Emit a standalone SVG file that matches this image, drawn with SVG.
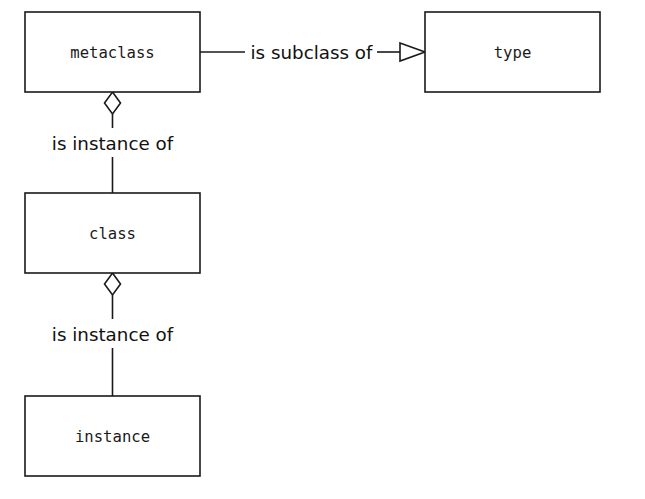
<svg xmlns="http://www.w3.org/2000/svg" width="645" height="499" viewBox="0 0 645 499">
<style>
.box{fill:#fff;stroke:#1a1a1a;stroke-width:1.6}
.name{font-family:"DejaVu Sans Mono",monospace;font-size:15.6px;fill:#1a1a1a;text-anchor:middle}
.lbl{font-family:"DejaVu Sans",sans-serif;font-size:18.3px;fill:#111;text-anchor:middle}
.ln{stroke:#1a1a1a;stroke-width:1.6;fill:none}
.head{fill:#fff;stroke:#1a1a1a;stroke-width:1.6}
</style>
<rect width="645" height="499" fill="#fff"/>
<g id="connectors">
<line class="ln" x1="200" y1="52" x2="245" y2="52"/>
<text class="lbl" x="311.5" y="58.5">is subclass of</text>
<line class="ln" x1="377" y1="52" x2="400" y2="52"/>
<polygon class="head" points="400,43 425,52 400,61"/>
<polygon class="head" points="112.5,92 120.5,103 112.5,114 104.5,103"/>
<line class="ln" x1="112.5" y1="114" x2="112.5" y2="128"/>
<text class="lbl" x="112.5" y="150">is instance of</text>
<line class="ln" x1="112.5" y1="157" x2="112.5" y2="193"/>
<polygon class="head" points="112.5,273 120.5,284 112.5,295 104.5,284"/>
<line class="ln" x1="112.5" y1="295" x2="112.5" y2="319"/>
<text class="lbl" x="112.5" y="341">is instance of</text>
<line class="ln" x1="112.5" y1="348" x2="112.5" y2="396"/>
</g>
<g id="metaclass"><rect class="box" x="25" y="12" width="175" height="80"/><text class="name" x="112.5" y="57.5">metaclass</text></g>
<g id="type"><rect class="box" x="425" y="12" width="175" height="80"/><text class="name" x="512.5" y="57.5">type</text></g>
<g id="class"><rect class="box" x="25" y="193" width="175" height="80"/><text class="name" x="112.5" y="238.5">class</text></g>
<g id="instance"><rect class="box" x="25" y="396" width="175" height="80"/><text class="name" x="112.5" y="441.5">instance</text></g>
</svg>
